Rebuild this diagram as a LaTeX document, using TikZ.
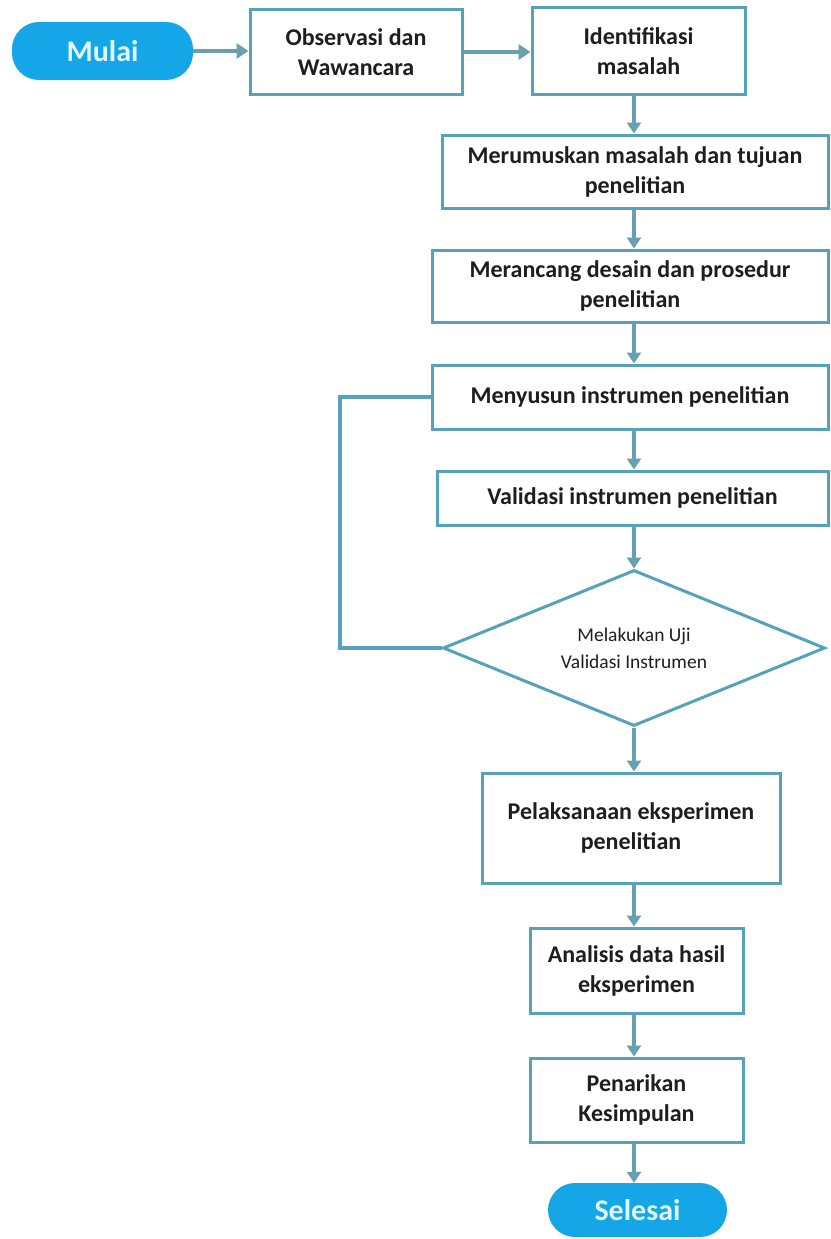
\documentclass[tikz,border=0pt]{standalone}
\usepackage{fontspec}
\setmainfont{Carlito}
\usetikzlibrary{arrows.meta,shapes.geometric}
\definecolor{edgec}{RGB}{84,163,186}
\definecolor{arrc}{RGB}{104,160,178}
\definecolor{pillc}{RGB}{20,166,230}
\definecolor{pilltext}{RGB}{222,246,255}
\definecolor{txtc}{RGB}{30,30,30}
\begin{document}
\begin{tikzpicture}[x=1pt,y=-1pt,
  box/.style={draw=edgec, line width=3pt, fill=white, align=center, inner sep=0pt,
    font=\fontsize{24}{30}\selectfont\bfseries, text=txtc},
  term/.style={fill=pillc, rounded corners=27pt, inner sep=0pt,
    font=\fontsize{30}{36}\selectfont\bfseries, text=pilltext},
  decis/.style={diamond, aspect=2.45, draw=edgec, line width=3pt, fill=white, align=center, inner sep=0pt,
    font=\fontsize{19.5}{27}\selectfont, text=txtc},
  flow/.style={draw=arrc, line width=4.5pt, -{Triangle[length=12pt,width=15pt]}},
  vflow/.style={draw=arrc, line width=3.5pt, -{Triangle[length=11pt,width=14pt]}},
  back/.style={draw=edgec, line width=3.5pt}]
\useasboundingbox (0,0) rectangle (830,1239);
\coordinate (ax) at (634,0);
\coordinate (lp) at (340,0);

\node[term, minimum width=181pt, minimum height=58pt] (mulai) at (102.5,51) {Mulai};
\node[box, minimum width=212pt, minimum height=84pt] (obs) at (356,52) {Observasi dan\\Wawancara};
\node[box, minimum width=213pt, minimum height=86pt] (ident) at (638.5,51) {Identifikasi\\masalah};
\node[box, minimum width=386pt, minimum height=73pt] (merum) at (635,171.5) {Merumuskan masalah dan tujuan\\penelitian};
\node[box, minimum width=396pt, minimum height=72pt] (meran) at (630,286) {Merancang desain dan prosedur\\penelitian};
\node[box, minimum width=396pt, minimum height=64pt] (menyu) at (630,397) {Menyusun instrumen penelitian};
\node[box, minimum width=391pt, minimum height=54pt] (valid) at (632.5,498) {Validasi instrumen penelitian};
\node[decis, minimum width=382pt, minimum height=156pt] (dia) at (634,648) {Melakukan Uji\\Validasi Instrumen};
\node[box, minimum width=298pt, minimum height=110pt] (pelak) at (631,828) {Pelaksanaan eksperimen\\penelitian};
\node[box, minimum width=213pt, minimum height=85pt] (anal) at (636.5,970.5) {Analisis data hasil\\eksperimen};
\node[box, minimum width=213pt, minimum height=84pt] (penar) at (636.5,1100) {Penarikan\\Kesimpulan};
\node[term, minimum width=179pt, minimum height=54pt] (seles) at (637.5,1210) {Selesai};

\draw[flow] (mulai.east) -- (obs.west |- mulai.east);
\draw[flow] (obs.east) -- (ident.west |- obs.east);
\draw[vflow] (ident.south -| ax) -- (merum.north -| ax);
\draw[vflow] (merum.south -| ax) -- (meran.north -| ax);
\draw[vflow] (meran.south -| ax) -- (menyu.north -| ax);
\draw[vflow] (menyu.south -| ax) -- (valid.north -| ax);
\draw[vflow] (valid.south -| ax) -- (dia.north);
\draw[vflow] (dia.south) -- (pelak.north -| ax);
\draw[vflow] (pelak.south -| ax) -- (anal.north -| ax);
\draw[vflow] (anal.south -| ax) -- (penar.north -| ax);
\draw[vflow] (penar.south -| ax) -- (seles.north -| ax);
\draw[back] (dia.west) -- (dia.west -| lp) |- (menyu.west);
\end{tikzpicture}
\end{document}
